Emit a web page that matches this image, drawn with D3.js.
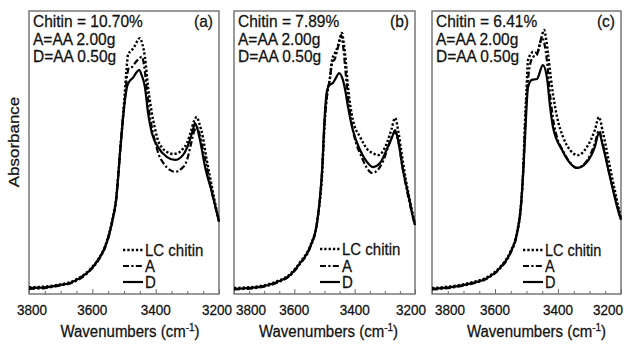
<!DOCTYPE html>
<html><head><meta charset="utf-8">
<script src="https://cdn.jsdelivr.net/npm/d3@7"></script>
<style>
html,body{margin:0;padding:0;background:#fff;}
svg{display:block;font-family:"Liberation Sans",Arial,Helvetica,sans-serif;}
</style></head>
<body>
<svg id="chart" width="630" height="347"></svg>
<script>
// ---------------- data ----------------
const panelTags = ["(a)", "(b)", "(c)"];
const chitinLabels = ["Chitin = 10.70%", "Chitin = 7.89%", "Chitin = 6.41%"];
const sampleA = "A=AA 2.00g";
const sampleD = "D=AA 0.50g";
const seriesNames = ["LC chitin", "A", "D"];
const xTicks = [3800, 3600, 3400, 3200];
const xMinorTicks = [3750, 3700, 3650, 3550, 3500, 3450, 3350, 3300, 3250];
const xTitle = "Wavenumbers (cm";
const yTitle = "Absorbance";

// panel (a): [wavenumber, absorbance]
const aLC = [[3800,0.024],[3750,0.026],[3700,0.034],[3670,0.042],[3640,0.058],[3610,0.084],[3580,0.125],[3560,0.168],[3545,0.222],[3535,0.272],[3525,0.335],[3518,0.420],[3512,0.505],[3505,0.600],[3498,0.700],[3492,0.790],[3487,0.845],[3478,0.855],[3468,0.870],[3458,0.891],[3450,0.901],[3442,0.880],[3434,0.835],[3424,0.729],[3416,0.665],[3408,0.613],[3400,0.572],[3393,0.542],[3380,0.515],[3364,0.500],[3345,0.493],[3330,0.496],[3315,0.510],[3301,0.532],[3288,0.575],[3278,0.612],[3270,0.623],[3262,0.600],[3251,0.553],[3240,0.480],[3228,0.410],[3215,0.335],[3200,0.257]];
const aA = [[3800,0.018],[3750,0.021],[3700,0.030],[3670,0.037],[3640,0.053],[3610,0.079],[3580,0.120],[3560,0.162],[3545,0.215],[3535,0.265],[3525,0.328],[3518,0.416],[3512,0.505],[3505,0.600],[3497,0.690],[3490,0.770],[3484,0.796],[3474,0.800],[3464,0.815],[3452,0.830],[3443,0.835],[3436,0.800],[3428,0.720],[3420,0.640],[3410,0.575],[3400,0.530],[3393,0.500],[3375,0.460],[3355,0.437],[3339,0.430],[3320,0.440],[3301,0.472],[3288,0.530],[3278,0.575],[3270,0.588],[3262,0.565],[3251,0.510],[3240,0.455],[3225,0.370],[3212,0.310],[3200,0.256]];
const aD = [[3800,0.021],[3750,0.023],[3700,0.032],[3670,0.039],[3640,0.056],[3610,0.081],[3580,0.123],[3560,0.165],[3545,0.218],[3535,0.268],[3525,0.331],[3518,0.419],[3512,0.507],[3505,0.595],[3497,0.683],[3490,0.732],[3482,0.750],[3472,0.761],[3462,0.778],[3452,0.789],[3444,0.770],[3434,0.729],[3424,0.637],[3412,0.567],[3393,0.518],[3364,0.482],[3339,0.472],[3314,0.489],[3292,0.542],[3282,0.580],[3276,0.602],[3268,0.580],[3260,0.542],[3244,0.447],[3222,0.356],[3200,0.254]];

// panel (b)
const bLC = [[3800,0.021],[3714,0.028],[3657,0.045],[3614,0.070],[3581,0.112],[3548,0.168],[3525,0.250],[3515,0.330],[3508,0.420],[3500,0.590],[3492,0.700],[3482,0.760],[3475,0.824],[3465,0.849],[3455,0.875],[3448,0.900],[3442,0.919],[3437,0.890],[3432,0.849],[3422,0.729],[3406,0.613],[3382,0.553],[3356,0.507],[3340,0.496],[3323,0.489],[3308,0.500],[3293,0.532],[3278,0.580],[3266,0.620],[3256,0.577],[3245,0.500],[3230,0.400],[3215,0.320],[3200,0.245]];
const bA = [[3800,0.016],[3714,0.023],[3657,0.040],[3614,0.065],[3581,0.106],[3548,0.162],[3525,0.248],[3515,0.335],[3508,0.430],[3500,0.600],[3490,0.710],[3482,0.760],[3475,0.813],[3465,0.830],[3455,0.870],[3445,0.912],[3438,0.870],[3430,0.780],[3422,0.690],[3410,0.600],[3395,0.530],[3380,0.490],[3360,0.445],[3342,0.426],[3325,0.435],[3305,0.470],[3285,0.530],[3266,0.570],[3256,0.540],[3240,0.437],[3220,0.330],[3200,0.243]];
const bD = [[3800,0.018],[3714,0.025],[3657,0.042],[3614,0.067],[3581,0.109],[3548,0.165],[3525,0.250],[3515,0.340],[3508,0.437],[3500,0.613],[3494,0.700],[3488,0.729],[3480,0.738],[3472,0.743],[3462,0.761],[3452,0.778],[3439,0.754],[3430,0.710],[3422,0.658],[3406,0.577],[3382,0.507],[3356,0.461],[3339,0.447],[3316,0.461],[3290,0.518],[3275,0.555],[3266,0.577],[3256,0.542],[3240,0.437],[3222,0.350],[3207,0.271],[3200,0.243]];

// panel (c)
const cLC = [[3800,0.021],[3733,0.028],[3670,0.042],[3625,0.059],[3584,0.095],[3552,0.147],[3530,0.218],[3518,0.310],[3510,0.450],[3505,0.600],[3500,0.720],[3495,0.824],[3479,0.852],[3467,0.849],[3455,0.890],[3444,0.930],[3438,0.900],[3432,0.849],[3419,0.729],[3403,0.623],[3384,0.553],[3362,0.507],[3337,0.489],[3308,0.518],[3283,0.577],[3270,0.623],[3257,0.567],[3235,0.447],[3215,0.340],[3200,0.265]];
const cA = [[3800,0.016],[3733,0.023],[3670,0.037],[3625,0.054],[3584,0.090],[3552,0.141],[3530,0.212],[3518,0.303],[3510,0.440],[3505,0.580],[3498,0.720],[3490,0.800],[3479,0.835],[3468,0.840],[3458,0.880],[3451,0.905],[3443,0.880],[3435,0.820],[3425,0.700],[3416,0.620],[3400,0.540],[3387,0.510],[3362,0.463],[3340,0.444],[3308,0.470],[3283,0.530],[3270,0.575],[3257,0.525],[3235,0.415],[3200,0.262]];
const cD = [[3800,0.018],[3733,0.025],[3670,0.039],[3625,0.056],[3584,0.092],[3552,0.144],[3530,0.215],[3518,0.306],[3510,0.437],[3505,0.542],[3495,0.729],[3483,0.754],[3467,0.757],[3448,0.806],[3435,0.761],[3425,0.658],[3416,0.588],[3387,0.507],[3362,0.461],[3340,0.444],[3308,0.465],[3283,0.518],[3270,0.567],[3257,0.518],[3235,0.412],[3203,0.271],[3200,0.262]];

// ---------------- layout ----------------
const svg = d3.select("#chart");
const TOP = 11, BOTTOM = 294;
const STRETCH = 1.08;          // the original figure's text is slightly tall
const ink = "#111";
const frameCol = "#6e6e6e";

function label(g, x, y, str, size, anchor) {
  return g.append("text")
    .attr("transform", `translate(${x},${y}) scale(1,${STRETCH})`)
    .attr("text-anchor", anchor || "start")
    .attr("font-size", size).attr("fill", ink)
    .attr("stroke", ink).attr("stroke-width", 0.25)
    .text(str);
}

const panels = [
  {l: 29,  r: 219, series: [aLC, aA, aD], legX: 123, legLen: 20, legY: [250, 266, 282], tickAnchor: ["middle","middle","middle","middle"], tickDx: [3,0,0,-2], titleDx: 6},
  {l: 234, r: 415, series: [bLC, bA, bD], legX: 320, legLen: 20, legY: [249, 266, 282], tickAnchor: ["start","middle","middle","middle"], tickDx: [2,0,0,-4], titleDx: 4},
  {l: 432, r: 621, series: [cLC, cA, cD], legX: 523, legLen: 20, legY: [250, 266, 282], tickAnchor: ["start","middle","middle","end"], tickDx: [3,0,0,2], titleDx: 10}
];
const styles = [
  {dash: "2.3,2", w: 2.4},
  {dash: "6,2.3,2.2,2.3", w: 2.2},
  {dash: null, w: 2.2}
];

const y = d3.scaleLinear().domain([0, 1]).range([BOTTOM, TOP - 1]);

panels.forEach((p, i) => {
  const x = d3.scaleLinear().domain([3800, 3200]).range([p.l, p.r]);
  const g = svg.append("g");

  // minor ticks
  g.append("g").attr("transform", `translate(0,${BOTTOM})`)
    .call(d3.axisBottom(x).tickValues(xMinorTicks).tickSize(-3).tickFormat(""))
    .call(s => s.select(".domain").remove())
    .call(s => s.selectAll("line").attr("stroke", frameCol).attr("stroke-width", 1));
  // major ticks
  g.append("g").attr("transform", `translate(0,${BOTTOM})`)
    .call(d3.axisBottom(x).tickValues(xTicks).tickSizeInner(-5).tickSizeOuter(0).tickFormat(""))
    .call(s => s.select(".domain").remove())
    .call(s => s.selectAll("line").attr("stroke", frameCol).attr("stroke-width", 1));
  // tick labels (placed by the same scale)
  const fmt = d3.format("d");
  xTicks.forEach((t, k) => {
    label(g, x(t) + p.tickDx[k], 315, fmt(t), 13.5, p.tickAnchor[k]);
  });

  // frame
  g.append("rect").attr("x", p.l).attr("y", TOP).attr("width", p.r - p.l).attr("height", BOTTOM - TOP)
    .attr("fill", "none").attr("stroke", frameCol).attr("stroke-width", 1.4);

  // curves
  const line = d3.line().x(d => x(d[0])).y(d => y(d[1])).curve(d3.curveMonotoneX);
  const clipId = "clip" + i;
  svg.append("clipPath").attr("id", clipId).append("rect")
    .attr("x", p.l).attr("y", TOP).attr("width", p.r - p.l + 1).attr("height", BOTTOM - TOP);
  const cg = g.append("g").attr("clip-path", `url(#${clipId})`);
  p.series.forEach((s, k) => {
    cg.append("path").datum(s).attr("d", line).attr("fill", "none")
      .attr("stroke", "#000").attr("stroke-width", styles[k].w)
      .attr("stroke-dasharray", styles[k].dash).attr("stroke-linejoin", "round");
  });

  // annotations
  [chitinLabels[i], sampleA, sampleD].forEach((t, k) => {
    label(g, p.l + 4, 27 + k * 17.5, t, 15.5);
  });
  label(g, p.r - 6, 27, panelTags[i], 15.5, "end");

  // legend
  seriesNames.forEach((n, k) => {
    const ly = p.legY[k];
    g.append("line").attr("x1", p.legX).attr("x2", p.legX + p.legLen).attr("y1", ly).attr("y2", ly)
      .attr("stroke", "#000").attr("stroke-width", styles[k].w).attr("stroke-dasharray", styles[k].dash);
    label(g, p.legX + p.legLen + 2, ly + 5.5, n, i === 2 ? 14.5 : 15);
  });

  // x title
  const xt = label(g, (p.l + p.r) / 2 + p.titleDx, 337, "", 15, "middle");
  xt.append("tspan").text(xTitle);
  xt.append("tspan").attr("dy", -6).attr("font-size", 10).text("-1");
  xt.append("tspan").attr("dy", 6).text(")");
});

svg.append("text").attr("transform", `translate(19,142) rotate(-90) scale(1.13,1)`)
  .attr("text-anchor", "middle").attr("font-size", 15).attr("fill", ink)
  .attr("stroke", ink).attr("stroke-width", 0.25).text(yTitle);
</script>
</body></html>
